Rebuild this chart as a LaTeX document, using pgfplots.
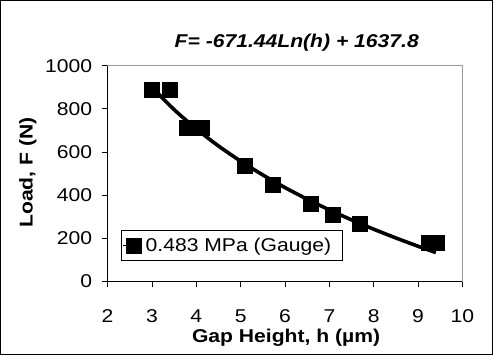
\documentclass[border=0pt]{standalone}
\usepackage{fontspec}
\setmainfont{Liberation Sans}[FakeStretch=1.14]
\usepackage{pgfplots}
\pgfplotsset{compat=1.18}
\begin{document}
\begin{tikzpicture}
\begin{axis}[
  scale only axis, width=354.5pt, height=215.3pt,
  xmin=2, xmax=10, ymin=0, ymax=1000,
  xtick={2,3,...,10}, ytick={0,200,...,1000},
  xtick pos=bottom, ytick pos=left,
  tick align=outside, major tick length=6pt,
  tick style={black, line width=0.8pt},
  axis line style={draw=gray!80, line width=0.8pt},
  /pgf/number format/assume math mode=true,
  /pgf/number format/1000 sep={},
  ticklabel style={font=\fontsize{18.5}{20}\selectfont},
  xticklabel style={yshift=-19pt},
  yticklabel style={xshift=-6pt},
  xlabel={\textbf{Gap Height, h (µm)}},
  ylabel={\textbf{Load, F (N)}},
  label style={font=\fontsize{18.5}{20}\selectfont},
  xlabel style={at={(axis description cs:0.503,-0.262)}, anchor=center},
  ylabel style={at={(axis description cs:-0.225,0.504)}, anchor=center},
  title={\textbf{\textit{F= -671.44Ln(h) + 1637.8}}},
  title style={at={(axis description cs:0.533,1.08)}, anchor=center, yshift=0pt, font=\fontsize{18.5}{20}\selectfont},
  legend style={at={(axis description cs:0.037,0.094)}, anchor=south west, draw=black, line width=0.6pt, font=\fontsize{18.5}{20}\selectfont, inner xsep=2pt, inner ysep=5.5pt},
  legend image code/.code={\path (0pt,0pt) -- (19pt,0pt); \fill[black] (3pt,-7.5pt) rectangle (18pt,7.5pt);},
  legend cell align=left,
  clip=false,
]
\addplot[only marks, mark=square*, mark size=7.5pt, black] coordinates {
  (3.00,890) (3.39,890) (3.79,712) (4.13,712) (5.09,535) (5.73,446)
  (6.57,358) (7.07,311) (7.68,268) (9.24,180) (9.43,180)
};
\addlegendentry{\hspace*{1pt}0.483 MPa (Gauge)\hspace*{7pt}}
\addplot[black, line width=3.6pt, smooth, forget plot] coordinates {
  (3.0,900.1) (3.5,796.6) (4.0,707.0) (4.5,627.9) (5.0,557.2) (5.5,493.2)
  (6.0,434.7) (6.5,381.0) (7.0,331.3) (7.5,284.9) (8.0,241.6) (8.5,200.9)
  (9.0,162.5) (9.4,133.3)
};
\draw[black, line width=0.8pt] (rel axis cs:0,1) -- (rel axis cs:0,0) -- (rel axis cs:1,0);
\draw[black, line width=1.5pt] ([xshift=-106.75pt,yshift=-73.25pt]rel axis cs:0,0) rectangle ([xshift=29.75pt,yshift=64.95pt]rel axis cs:1,1);
\end{axis}
\end{tikzpicture}
\end{document}
